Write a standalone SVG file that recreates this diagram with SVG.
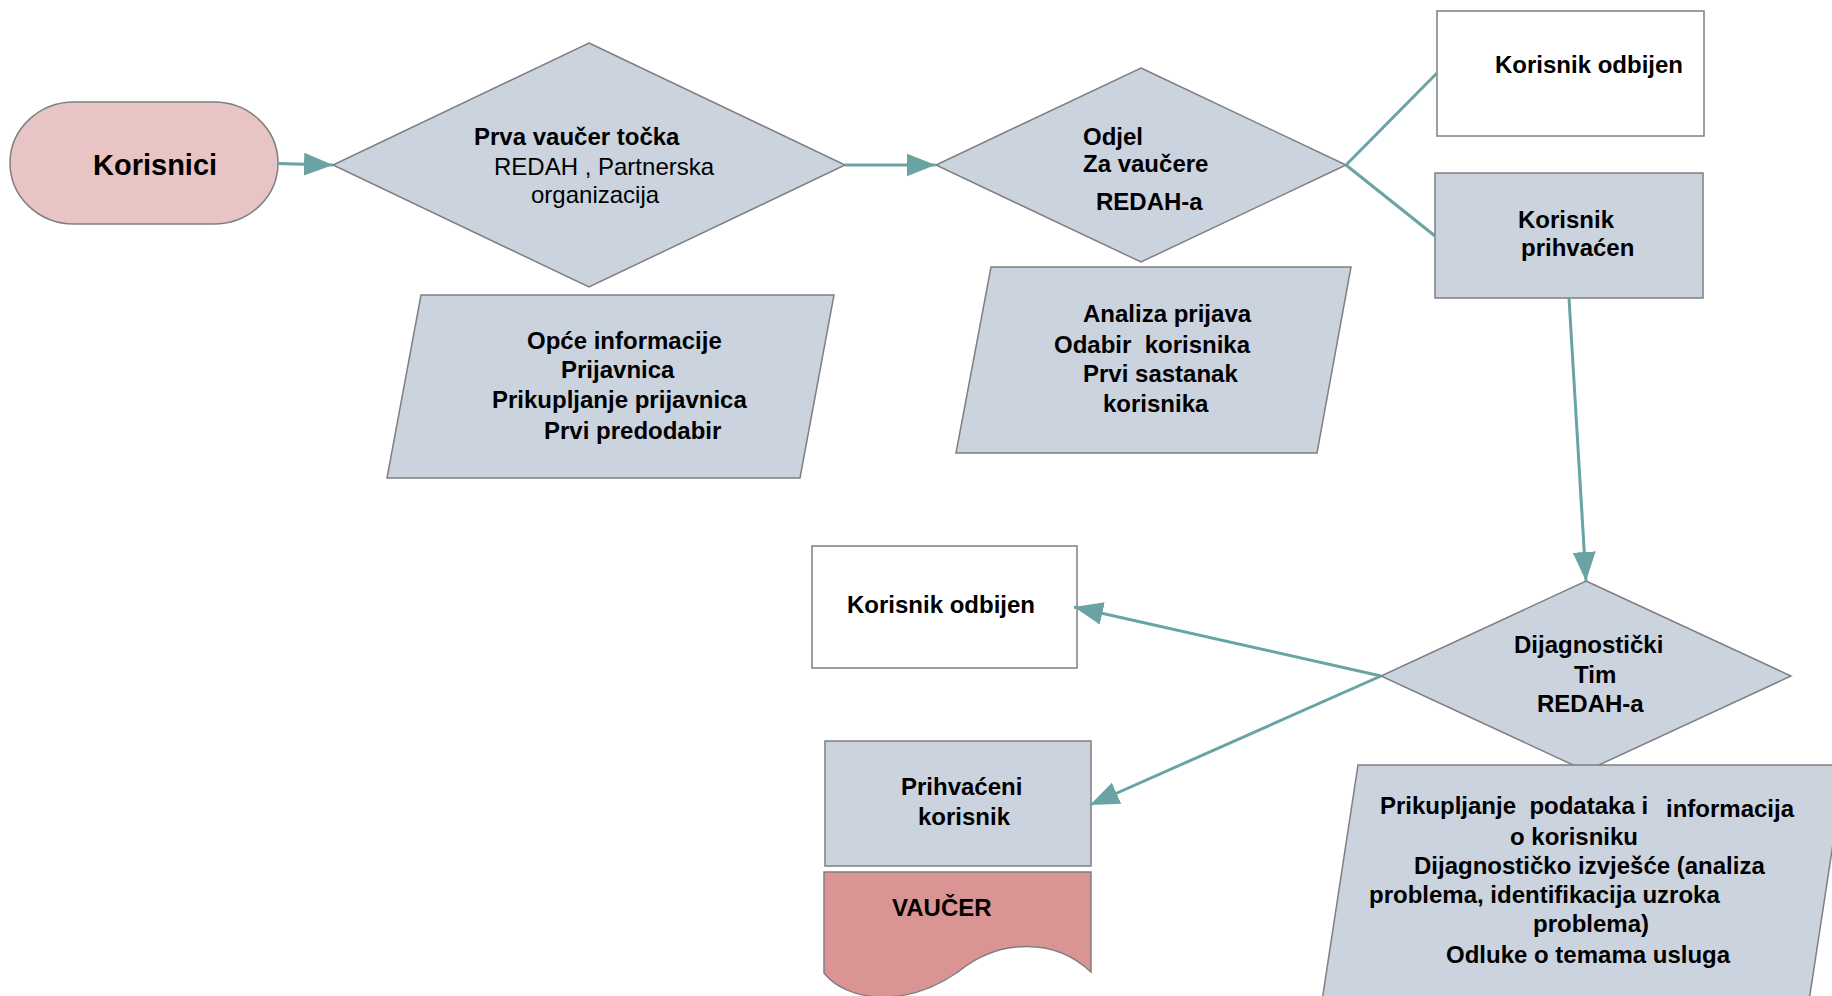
<svg xmlns="http://www.w3.org/2000/svg" width="1832" height="996" viewBox="0 0 1832 996">
<defs>
<style>
.n{fill:#cbd3df;stroke:#7f7f7f;stroke-width:1.5}
.w{fill:#ffffff;stroke:#7f7f7f;stroke-width:1.5}
.t{font-family:"Liberation Sans",Arial,sans-serif;font-size:24px;font-weight:bold;fill:#000}
.r{font-family:"Liberation Sans",Arial,sans-serif;font-size:24px;fill:#000}
.c{fill:none;stroke:#6aa3a4;stroke-width:3}
</style>
<marker id="ah" markerUnits="userSpaceOnUse" viewBox="0 0 29 23" refX="29" refY="11.5" markerWidth="29" markerHeight="23" orient="auto">
<path d="M0,0 L29,11.5 L0,23 Z" fill="#6aa3a4"/>
</marker>
</defs>
<rect width="1832" height="996" fill="#ffffff"/>

<g id="korisnici">
<rect x="10" y="102" width="268" height="122" rx="64" ry="61" fill="#e8c5c4" stroke="#7f7f7f" stroke-width="1.5"/>
<text x="93" y="175" class="t" style="font-size:29px">Korisnici</text>
</g>

<g id="prva-vaucer-tocka">
<polygon class="n" points="589,43 845,165 589,287 333,165"/>
<text x="474" y="145" class="t">Prva vaučer točka</text>
<text x="494" y="175" class="r">REDAH , Partnerska</text>
<text x="531" y="203" class="r">organizacija</text>
</g>

<g id="opce-informacije">
<polygon class="n" points="421,295 834,295 800,478 387,478"/>
<text x="527" y="349" class="t">Opće informacije</text>
<text x="561" y="378" class="t">Prijavnica</text>
<text x="492" y="408" class="t">Prikupljanje prijavnica</text>
<text x="544" y="439" class="t">Prvi predodabir</text>
</g>

<g id="odjel">
<polygon class="n" points="1141,68 1346,165 1141,262 936,165"/>
<text x="1083" y="145" class="t">Odjel</text>
<text x="1083" y="172" class="t">Za vaučere</text>
<text x="1096" y="210" class="t">REDAH-a</text>
</g>

<g id="analiza-prijava">
<polygon class="n" points="991,267 1351,267 1317,453 956,453"/>
<text x="1083" y="322" class="t">Analiza prijava</text>
<text x="1054" y="353" class="t" xml:space="preserve">Odabir  korisnika</text>
<text x="1083" y="382" class="t">Prvi sastanak</text>
<text x="1103" y="412" class="t">korisnika</text>
</g>

<g id="korisnik-odbijen-1">
<rect class="w" x="1437" y="11" width="267" height="125"/>
<text x="1495" y="73" class="t">Korisnik odbijen</text>
</g>

<g id="korisnik-prihvacen">
<rect class="n" x="1435" y="173" width="268" height="125"/>
<text x="1518" y="228" class="t">Korisnik</text>
<text x="1521" y="256" class="t">prihvaćen</text>
</g>

<g id="dijagnosticki-tim">
<polygon class="n" points="1586,581 1791,676 1586,771 1381,676"/>
<text x="1514" y="653" class="t">Dijagnostički</text>
<text x="1574" y="683" class="t">Tim</text>
<text x="1537" y="712" class="t">REDAH-a</text>
</g>

<g id="prikupljanje-podataka">
<polygon class="n" points="1358,765 1845,765 1809,1001 1322,1001"/>
<text x="1380" y="814" class="t" xml:space="preserve">Prikupljanje  podataka i</text>
<text x="1666" y="817" class="t">informacija</text>
<text x="1510" y="845" class="t">o korisniku</text>
<text x="1414" y="874" class="t">Dijagnostičko izvješće (analiza</text>
<text x="1369" y="903" class="t">problema, identifikacija uzroka</text>
<text x="1533" y="932" class="t">problema)</text>
<text x="1446" y="963" class="t">Odluke o temama usluga</text>
</g>

<g id="korisnik-odbijen-2">
<rect class="w" x="812" y="546" width="265" height="122"/>
<text x="847" y="613" class="t">Korisnik odbijen</text>
</g>

<g id="prihvaceni-korisnik">
<rect class="n" x="825" y="741" width="266" height="125"/>
<text x="901" y="795" class="t">Prihvaćeni</text>
<text x="918" y="825" class="t">korisnik</text>
</g>

<g id="vaucer">
<path d="M824,872 H1091 V972 C1055,938 1000,938 958,972 C903,1010 845,1000 824,973 Z" fill="#d99493" stroke="#7f7f7f" stroke-width="1.5"/>
<text x="892" y="916" class="t">VAUČER</text>
</g>

<g id="connectors">
<line class="c" x1="277" y1="163.5" x2="333" y2="165" marker-end="url(#ah)"/>
<line class="c" x1="845" y1="165" x2="935.5" y2="165" marker-end="url(#ah)"/>
<line class="c" x1="1346" y1="165" x2="1437" y2="73"/>
<line class="c" x1="1346" y1="165" x2="1435" y2="236"/>
<line class="c" x1="1569" y1="298" x2="1586" y2="581" marker-end="url(#ah)"/>
<line class="c" x1="1381" y1="676" x2="1074" y2="607" marker-end="url(#ah)"/>
<line class="c" x1="1381" y1="676" x2="1090" y2="805" marker-end="url(#ah)"/>
</g>
</svg>
